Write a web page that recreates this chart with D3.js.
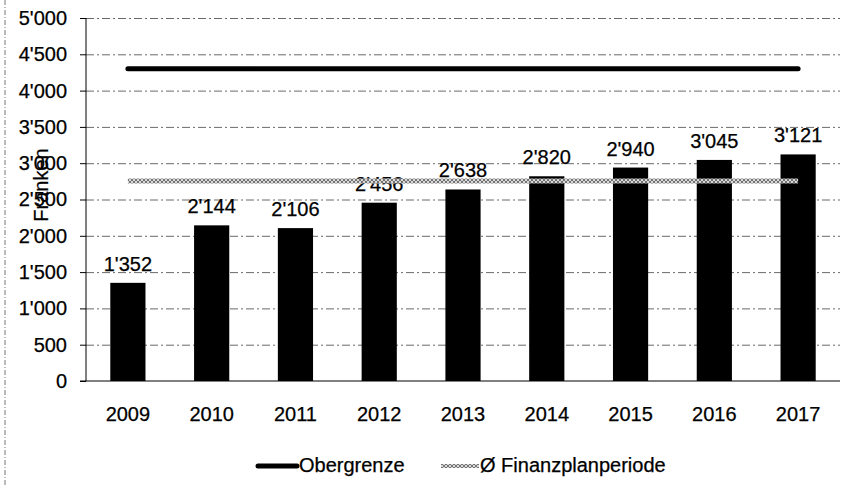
<!DOCTYPE html>
<html>
<head>
<meta charset="utf-8">
<script src="https://cdn.jsdelivr.net/npm/d3@7"></script>
<style>
  body { margin: 0; background: #fff; }
  text { font-family: "Liberation Sans", Arial, sans-serif; fill: #000; stroke: #000; stroke-width: 0.25px; }
</style>
</head>
<body>
<div id="chart"></div>
<script>
// data
const years = ["2009", "2010", "2011", "2012", "2013", "2014", "2015", "2016", "2017"];
const values = [1352, 2144, 2106, 2456, 2638, 2820, 2940, 3045, 3121];
const obergrenze = 4300;
const finanzplanAvg = 2755;
const yTicks = [0, 500, 1000, 1500, 2000, 2500, 3000, 3500, 4000, 4500, 5000];

// layout
const W = 850, H = 487;
const PLOT = { left: 86, right: 840, top: 18, bottom: 381 };
const FONT = 20;

const fmt = (v) => {
  const s = String(v);
  return s.length > 3 ? s.slice(0, -3) + "'" + s.slice(-3) : s;
};

const svg = d3.select("#chart").append("svg")
  .attr("width", W).attr("height", H);

// hatch pattern for average line
const defs = svg.append("defs");
const pat = defs.append("pattern")
  .attr("id", "hatch")
  .attr("width", 4).attr("height", 4)
  .attr("patternUnits", "userSpaceOnUse");
pat.append("rect").attr("width", 4).attr("height", 4).attr("fill", "#d8d8d8");
pat.append("path").attr("d", "M0,0L4,4M4,0L0,4")
  .attr("stroke", "#6a6a6a").attr("stroke-width", 0.9);

// left page border
svg.append("line")
  .attr("x1", 5).attr("x2", 5).attr("y1", 0).attr("y2", H)
  .attr("stroke", "#777").attr("stroke-dasharray", "5,2,1,2");

const x = d3.scaleBand()
  .domain(years)
  .range([PLOT.left, PLOT.right])
  .paddingInner(0.58)
  .paddingOuter(0.29);

const y = d3.scaleLinear()
  .domain([0, 5000])
  .range([PLOT.bottom, PLOT.top]);

// gridlines + y labels
const yAxis = svg.append("g")
  .attr("transform", `translate(${PLOT.left},0)`)
  .call(d3.axisLeft(y).tickValues(yTicks).tickFormat(fmt).tickSize(6).tickPadding(13));
yAxis.select(".domain").remove();
yAxis.attr("font-size", null).attr("font-family", null);
yAxis.selectAll(".tick line").attr("stroke", "#000");
yAxis.selectAll(".tick text").attr("font-size", FONT);
yAxis.selectAll(".tick")
  .filter((d) => d > 0)
  .append("line")
  .attr("x1", 0).attr("x2", PLOT.right - PLOT.left)
  .attr("stroke", "#444").attr("stroke-width", 0.8)
  .attr("stroke-dasharray", "8,3,2,3");

// axes lines
svg.append("line")
  .attr("x1", PLOT.left).attr("x2", PLOT.left)
  .attr("y1", PLOT.top).attr("y2", PLOT.bottom)
  .attr("stroke", "#000").attr("stroke-width", 1);
svg.append("line")
  .attr("x1", PLOT.left - 6).attr("x2", PLOT.right)
  .attr("y1", PLOT.bottom).attr("y2", PLOT.bottom)
  .attr("stroke", "#000").attr("stroke-width", 1);

// x labels
svg.append("g").selectAll("text")
  .data(years).join("text")
  .attr("x", (d) => x(d) + x.bandwidth() / 2)
  .attr("y", 421)
  .attr("text-anchor", "middle")
  .attr("font-size", FONT)
  .text((d) => d);

// bars
svg.append("g").selectAll("rect")
  .data(values).join("rect")
  .attr("x", (d, i) => x(years[i]))
  .attr("y", (d) => y(d))
  .attr("width", x.bandwidth())
  .attr("height", (d) => y(0) - y(d))
  .attr("fill", "#000");

// value labels
svg.append("g").selectAll("text")
  .data(values).join("text")
  .attr("x", (d, i) => x(years[i]) + x.bandwidth() / 2)
  .attr("y", (d) => y(d) - 12)
  .attr("text-anchor", "middle")
  .attr("font-size", FONT)
  .text(fmt);

// y axis title
svg.append("text")
  .attr("transform", "translate(48,185) rotate(-90)")
  .attr("text-anchor", "middle")
  .attr("font-size", FONT)
  .text("Franken");

// reference lines
const x0 = x(years[0]) + x.bandwidth() / 2;
const x1 = x(years[years.length - 1]) + x.bandwidth() / 2;
svg.append("rect")
  .attr("x", x0).attr("y", y(finanzplanAvg) - 2.5)
  .attr("width", x1 - x0).attr("height", 5)
  .attr("fill", "url(#hatch)");
svg.append("line")
  .attr("x1", x0).attr("x2", x1)
  .attr("y1", y(obergrenze)).attr("y2", y(obergrenze))
  .attr("stroke", "#000").attr("stroke-width", 5)
  .attr("stroke-linecap", "round");

// legend
const leg = svg.append("g").attr("transform", "translate(0,466)");
leg.append("line")
  .attr("x1", 258).attr("x2", 297).attr("y1", 0).attr("y2", 0)
  .attr("stroke", "#000").attr("stroke-width", 5).attr("stroke-linecap", "round");
leg.append("text").attr("x", 299).attr("y", 6).attr("font-size", FONT).text("Obergrenze");
leg.append("rect")
  .attr("x", 441).attr("y", -2).attr("width", 38).attr("height", 4)
  .attr("fill", "url(#hatch)");
leg.append("text").attr("x", 480).attr("y", 6).attr("font-size", FONT).text("Ø Finanzplanperiode");
</script>
</body>
</html>
